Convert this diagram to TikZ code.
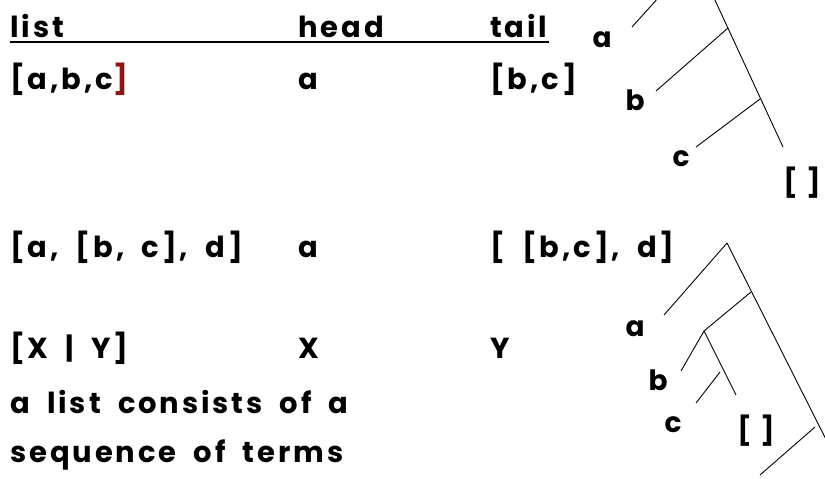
\documentclass[tikz,border=0pt]{standalone}
\usepackage{fontspec}
\setmainfont{Poppins}[LetterSpace=10, WordSpace=1.9]
\newfontfamily\leaffont{Poppins}[LetterSpace=10]
\usepackage{xcolor}
\usepackage{tikz}
\usetikzlibrary{positioning}

\begin{document}
\begin{tikzpicture}[x=1pt, y=-1pt,
    txt/.style={anchor=base west, inner sep=0pt, font=\fontsize{29}{34}\selectfont\bfseries},
    leaf/.style={inner sep=0pt, font=\leaffont\fontsize{28}{34}\selectfont\bfseries},
    branch/.style={line width=0.9pt}]
% Lists, their heads and tails, drawn as trees

\definecolor{bracketred}{RGB}{140,22,22}

\useasboundingbox (0,0) rectangle (825,479);
\clip (0,0) rectangle (825,479);

% Header row
\node[txt] (hlist) at (10,37) {list};
\node[txt] (hhead) at (298,37) {head};
\node[txt] (htail) at (490,37) {tail};
\draw[line width=2.5pt] (10,42) -- (549,42);

% Row 1
\node[txt] (list1) at (10,89) {[a,b,c\textcolor{bracketred}{]}};
\node[txt] (head1) at (298,89) {a};
\node[txt] (tail1) at (490,89) {[b,c]};

% Row 2
\node[txt] (list2) at (10,257) {[a, [b, c], d]};
\node[txt] (head2) at (298,257) {a};
\node[txt] (tail2) at (490,257) {[ [b,c], d]};

% Row 3
\node[txt] (list3) at (10,358) {[X | Y]};
\node[txt] (head3) at (298,358) {X};
\node[txt] (tail3) at (490,358) {Y};

% Note
\node[txt] (note1) at (10,413) {a list consists of a};
\node[txt] (note2) at (10,462) {sequence of terms};

% Tree for [a,b,c]
\coordinate (t1root) at (695,-43);
\coordinate (t1b) at (728,28);
\coordinate (t1c) at (760,99);
\coordinate (t1end) at (783,147);
\coordinate (t1a) at (632,27);
\coordinate (t1bl) at (656,91);
\coordinate (t1cl) at (696,147);
\node[leaf] (t1la) at (602,40) {a};
\node[leaf] (t1lb) at (635,100) {b};
\node[leaf] (t1lc) at (681,159) {c};
\node[leaf] (t1nil) at (802,183) {[ ]};
\draw[branch] (t1root) -- (t1end);
\draw[branch] (t1root) -- (t1a);
\draw[branch] (t1b) -- (t1bl);
\draw[branch] (t1c) -- (t1cl);

% Tree for [a, [b, c], d]
\coordinate (t2root) at (727,243);
\coordinate (t2s) at (751,292);
\coordinate (t2in) at (704,331);
\coordinate (t2inend) at (736,395);
\coordinate (t2end) at (850,487);
\coordinate (t2a) at (664,315);
\coordinate (t2bl) at (681,371);
\coordinate (t2c) at (720,372);
\coordinate (t2cl) at (696,403);
\coordinate (t2d) at (815,427);
\coordinate (t2dl) at (760,475);
\node[leaf] (t2la) at (635,329) {a};
\node[leaf] (t2lb) at (658,380) {b};
\node[leaf] (t2lc) at (673,425) {c};
\node[leaf] (t2nil) at (756,431) {[ ]};
\draw[branch] (t2root) -- (t2end);
\draw[branch] (t2root) -- (t2a);
\draw[branch] (t2s) -- (t2in) -- (t2inend);
\draw[branch] (t2in) -- (t2bl);
\draw[branch] (t2c) -- (t2cl);
\draw[branch] (t2d) -- (t2dl);

\end{tikzpicture}
\end{document}
